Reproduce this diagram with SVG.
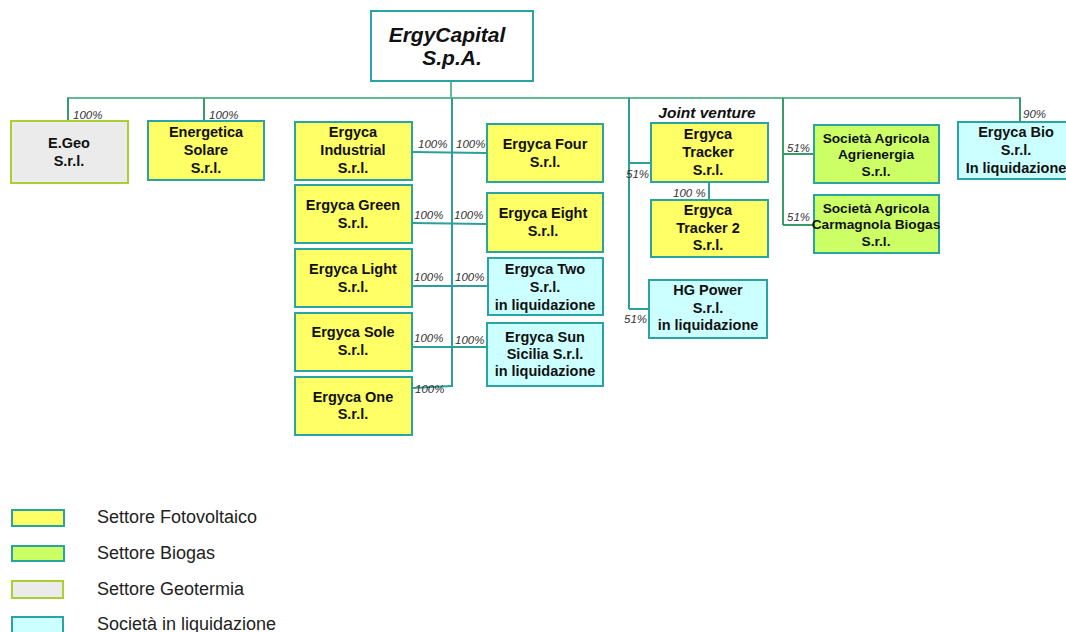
<svg xmlns="http://www.w3.org/2000/svg" width="1066" height="632" viewBox="0 0 1066 632">
<style>
.box{stroke:#2aa3a3;stroke-width:2}
.pv{fill:#ffff66}
.bg{fill:#ccff66}
.li{fill:#ccffff}
.geo{fill:#ebebeb;stroke:#a8d030;stroke-width:2}
.t{font-family:"Liberation Sans",Arial,sans-serif;font-weight:bold;font-size:14.5px;fill:#111;text-anchor:middle}
.ts{font-family:"Liberation Sans",Arial,sans-serif;font-weight:bold;font-size:13.7px;fill:#111;text-anchor:middle}
.p{font-family:"Liberation Sans",Arial,sans-serif;font-style:italic;font-size:11.5px;fill:#333}
.lg{font-family:"Liberation Sans",Arial,sans-serif;font-size:18px;fill:#222}
.c{fill:none;stroke:#2e9e9a;stroke-width:2}
.g{fill:none;stroke:#3a9a6c;stroke-width:2}
</style>
<g id="connectors">
<line class="g" x1="451" y1="81" x2="451" y2="98" style="stroke:#66b894"/>
<line class="g" x1="67" y1="98" x2="1021" y2="98" style="stroke:#66b894"/>
<line class="g" x1="68" y1="98" x2="68" y2="121"/>
<line class="g" x1="204" y1="98" x2="204" y2="121"/>
<line class="c" x1="452" y1="98" x2="452" y2="387"/>
<line class="c" x1="412" y1="152" x2="487" y2="153"/>
<line class="c" x1="412" y1="223" x2="487" y2="224"/>
<line class="c" x1="412" y1="286" x2="488" y2="286"/>
<line class="c" x1="412" y1="347" x2="487" y2="347"/>
<line class="c" x1="412" y1="388" x2="452" y2="386"/>
<line class="c" x1="629" y1="98" x2="629" y2="309"/>
<line class="c" x1="629" y1="163" x2="651" y2="163"/>
<line class="c" x1="629" y1="309" x2="649" y2="309"/>
<line class="c" x1="709" y1="182" x2="709" y2="200"/>
<line class="g" x1="783" y1="98" x2="783" y2="225"/>
<line class="g" x1="783" y1="154" x2="814" y2="154"/>
<line class="g" x1="783" y1="225" x2="814" y2="225"/>
<line class="g" x1="1020" y1="98" x2="1020" y2="122"/>
<text class="p" x="73" y="119">100%</text>
<text class="p" x="209" y="119">100%</text>
<text class="p" x="418" y="148">100%</text>
<text class="p" x="456" y="148">100%</text>
<text class="p" x="414" y="219">100%</text>
<text class="p" x="454" y="219">100%</text>
<text class="p" x="414" y="281">100%</text>
<text class="p" x="455" y="281">100%</text>
<text class="p" x="414" y="342">100%</text>
<text class="p" x="455" y="344">100%</text>
<text class="p" x="415" y="393">100%</text>
<text class="p" x="626" y="178">51%</text>
<text class="p" x="624" y="323">51%</text>
<text class="p" x="673" y="197">100 %</text>
<text class="p" x="787" y="152">51%</text>
<text class="p" x="787" y="221">51%</text>
<text class="p" x="1023" y="118">90%</text>
</g>
<g id="ergycapital">
<rect x="371" y="11" width="162" height="70" fill="#fff" class="box"/>
<text x="447" y="42" style="font-family:'Liberation Sans',Arial,sans-serif;font-weight:bold;font-style:italic;font-size:21px;fill:#111;text-anchor:middle">ErgyCapital</text>
<text x="452" y="65" style="font-family:'Liberation Sans',Arial,sans-serif;font-weight:bold;font-style:italic;font-size:21px;fill:#111;text-anchor:middle">S.p.A.</text>
</g>
<g id="egeo">
<rect x="11" y="121" width="117" height="62" class="geo"/>
<text class="t" x="69" y="148">E.Geo</text>
<text class="t" x="69" y="166">S.r.l.</text>
</g>
<g id="energetica">
<rect x="148" y="121" width="116" height="59" class="box pv"/>
<text class="t" x="206" y="137">Energetica</text>
<text class="t" x="206" y="155">Solare</text>
<text class="t" x="206" y="173">S.r.l.</text>
</g>
<g id="industrial">
<rect x="295" y="122" width="117" height="58" class="box pv"/>
<text class="t" x="353" y="137">Ergyca</text>
<text class="t" x="353" y="155">Industrial</text>
<text class="t" x="353" y="173">S.r.l.</text>
</g>
<g id="green">
<rect x="295" y="185" width="117" height="58" class="box pv"/>
<text class="t" x="353" y="210">Ergyca Green</text>
<text class="t" x="353" y="228">S.r.l.</text>
</g>
<g id="light">
<rect x="295" y="249" width="117" height="58" class="box pv"/>
<text class="t" x="353" y="274">Ergyca Light</text>
<text class="t" x="353" y="292">S.r.l.</text>
</g>
<g id="sole">
<rect x="295" y="313" width="117" height="58" class="box pv"/>
<text class="t" x="353" y="337">Ergyca Sole</text>
<text class="t" x="353" y="355">S.r.l.</text>
</g>
<g id="one">
<rect x="295" y="377" width="117" height="58" class="box pv"/>
<text class="t" x="353" y="402">Ergyca One</text>
<text class="t" x="353" y="419">S.r.l.</text>
</g>
<g id="four">
<rect x="487" y="124" width="116" height="58" class="box pv"/>
<text class="t" x="545" y="149">Ergyca Four</text>
<text class="t" x="545" y="167">S.r.l.</text>
</g>
<g id="eight">
<rect x="487" y="193" width="116" height="59" class="box pv"/>
<text class="t" x="543" y="218">Ergyca Eight</text>
<text class="t" x="543" y="236">S.r.l.</text>
</g>
<g id="two">
<rect x="488" y="258" width="115" height="57" class="box li"/>
<text class="t" x="545" y="274">Ergyca Two</text>
<text class="t" x="545" y="292">S.r.l.</text>
<text class="t" x="545" y="310">in liquidazione</text>
</g>
<g id="sun">
<rect x="487" y="323" width="116" height="63" class="box li"/>
<text class="t" x="545" y="342">Ergyca Sun</text>
<text class="t" x="545" y="359">Sicilia S.r.l.</text>
<text class="t" x="545" y="376">in liquidazione</text>
</g>
<g id="jv">
<text x="707" y="118" style="font-family:'Liberation Sans',Arial,sans-serif;font-weight:bold;font-style:italic;font-size:15.5px;fill:#111;text-anchor:middle">Joint venture</text>
</g>
<g id="tracker">
<rect x="651" y="123" width="117" height="59" class="box pv"/>
<text class="t" x="708" y="139">Ergyca</text>
<text class="t" x="708" y="157">Tracker</text>
<text class="t" x="708" y="175">S.r.l.</text>
</g>
<g id="tracker2">
<rect x="651" y="200" width="117" height="57" class="box pv"/>
<text class="t" x="708" y="215">Ergyca</text>
<text class="t" x="708" y="233">Tracker 2</text>
<text class="t" x="708" y="250">S.r.l.</text>
</g>
<g id="hgpower">
<rect x="649" y="280" width="118" height="58" class="box li"/>
<text class="t" x="708" y="295">HG Power</text>
<text class="t" x="708" y="313">S.r.l.</text>
<text class="t" x="708" y="330">in liquidazione</text>
</g>
<g id="agrienergia">
<rect x="814" y="125" width="125" height="58" class="box bg"/>
<text class="ts" x="876" y="143">Società Agricola</text>
<text class="ts" x="876" y="159">Agrienergia</text>
<text class="ts" x="876" y="176">S.r.l.</text>
</g>
<g id="carmagnola">
<rect x="814" y="195" width="125" height="58" class="box bg"/>
<text class="ts" x="876" y="213">Società Agricola</text>
<text class="ts" x="876" y="229">Carmagnola Biogas</text>
<text class="ts" x="876" y="246">S.r.l.</text>
</g>
<g id="ergycabio">
<rect x="958" y="122" width="116" height="57" class="box li"/>
<text class="t" x="1016" y="137">Ergyca Bio</text>
<text class="t" x="1016" y="155">S.r.l.</text>
<text class="t" x="1016" y="173">In liquidazione</text>
</g>
<g id="legend">
<rect x="12" y="510" width="52" height="16" class="box pv"/>
<rect x="12" y="546" width="52" height="15" class="box bg"/>
<rect x="12" y="581" width="51" height="17" class="geo"/>
<rect x="12" y="617" width="51" height="17" class="box li"/>
<text class="lg" x="97" y="523">Settore Fotovoltaico</text>
<text class="lg" x="97" y="559">Settore Biogas</text>
<text class="lg" x="97" y="595">Settore Geotermia</text>
<text class="lg" x="97" y="630">Società in liquidazione</text>
</g>
</svg>
